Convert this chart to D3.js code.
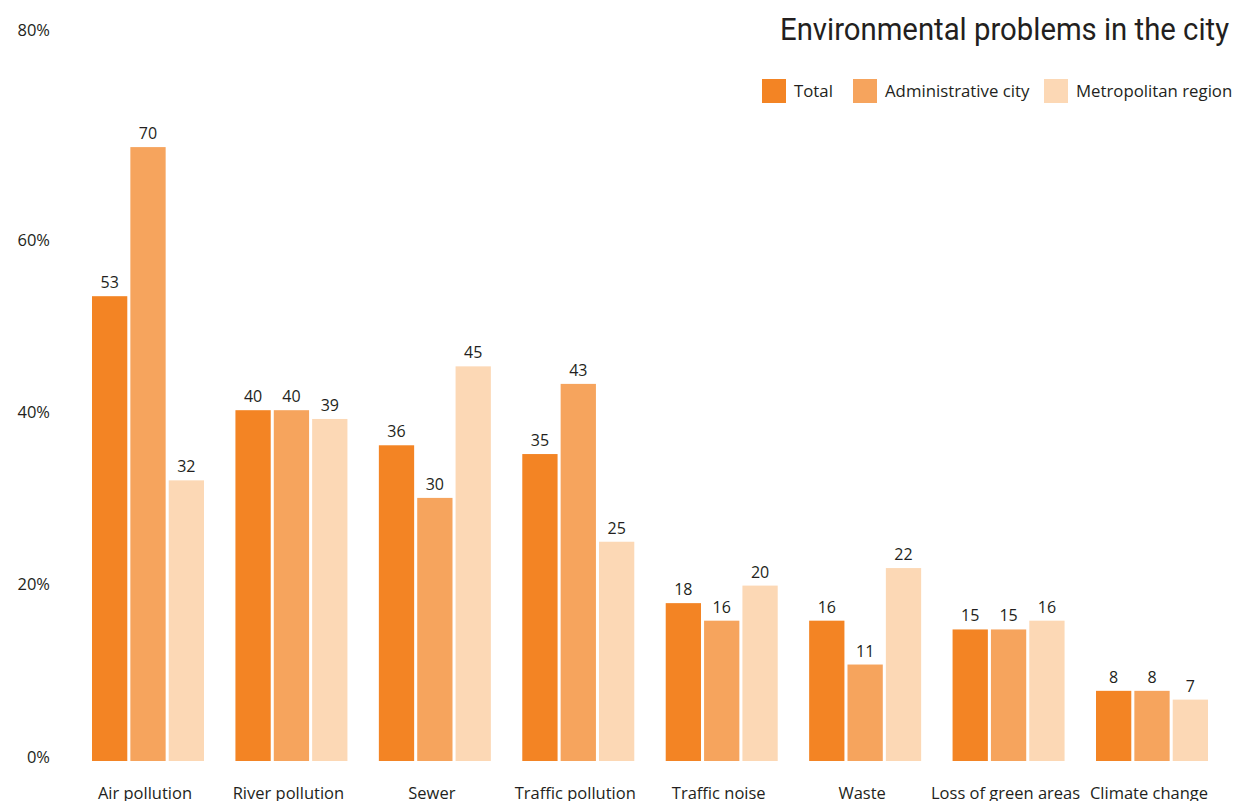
<!DOCTYPE html>
<html>
<head>
<meta charset="utf-8">
<script src="https://cdn.jsdelivr.net/npm/d3@7"></script>
<style>
  html, body { margin: 0; padding: 0; background: #fff; }
  svg { display: block; }
  text { font-family: "Open Sans", "Noto Sans", sans-serif; fill: #231f20; }
</style>
</head>
<body>
<svg id="chart" width="1256" height="801"></svg>
<script>
// Share of respondents naming each environmental problem (%)
const categories = ["Air pollution", "River pollution", "Sewer", "Traffic pollution",
                    "Traffic noise", "Waste", "Loss of green areas", "Climate change"];
const seriesNames = ["Total", "Administrative city", "Metropolitan region"];
const total        = [53, 40, 36, 35, 18, 16, 15, 8];
const adminCity    = [70, 40, 30, 43, 16, 11, 15, 8];
const metroRegion  = [32, 39, 45, 25, 20, 22, 16, 7];
const yTicks = [0, 20, 40, 60, 80];
const colors = ["#f38424", "#f6a45d", "#fcd8b5"];

const seriesValues = [total, adminCity, metroRegion];

const svg = d3.select("#chart");

// Scales
const step = (1152 - 148) / (categories.length - 1);
const x0 = d3.scaleBand()
  .domain(categories)
  .range([148 - step / 2, 1152 + step / 2])
  .padding(0);
const groupWidth = 112;
const x1 = d3.scaleBand()
  .domain(seriesNames)
  .range([0, groupWidth])
  .paddingInner(0.08)
  .paddingOuter(0);
const y = d3.scaleLinear().domain([0, 80]).range([761, 59.4]);
// tick labels sit on their own piecewise scale, the top one pinned to the top edge
const yLabel = d3.scaleLinear().domain([0, 60, 80]).range([757, 240, 30]);
const color = d3.scaleOrdinal().domain(seriesNames).range(colors);

// Y tick labels
svg.append("g").selectAll("text")
  .data(yTicks)
  .join("text")
  .attr("x", 50)
  .attr("y", d => yLabel(d))
  .attr("dy", "0.35em")
  .attr("text-anchor", "end")
  .style("font-size", "16.5px")
  .text(d => d + "%");

// Bars
const groups = svg.append("g").selectAll("g")
  .data(categories)
  .join("g")
  .attr("transform", c => `translate(${x0(c) + x0.bandwidth() / 2 - groupWidth / 2},0)`);

groups.selectAll("rect")
  .data((c, i) => seriesNames.map((s, j) => ({ s, v: seriesValues[j][i] })))
  .join("rect")
  .attr("x", d => x1(d.s))
  .attr("width", x1.bandwidth())
  .attr("y", d => y(d.v))
  .attr("height", d => y(0) - y(d.v))
  .attr("fill", d => color(d.s));

groups.selectAll("text.val")
  .data((c, i) => seriesNames.map((s, j) => ({ s, v: seriesValues[j][i] })))
  .join("text")
  .attr("class", "val")
  .attr("x", d => x1(d.s) + x1.bandwidth() / 2)
  .attr("y", d => y(d.v) - 8)
  .attr("text-anchor", "middle")
  .style("font-size", "16px")
  .text(d => d.v);

// Category labels
svg.append("g").selectAll("text")
  .data(categories)
  .join("text")
  .attr("x", c => x0(c) + x0.bandwidth() / 2 - 3)
  .attr("y", 799)
  .attr("text-anchor", "middle")
  .style("font-size", "16.5px")
  .text(c => c);

// Title
svg.append("text")
  .attr("x", 1229)
  .attr("y", 40)
  .attr("text-anchor", "end")
  .attr("textLength", 449)
  .attr("lengthAdjust", "spacingAndGlyphs")
  .style("font-family", "Roboto, sans-serif")
  .style("font-size", "32px")
  .text("Environmental problems in the city");

// Legend
const legendX = [762, 853, 1044];
const legend = svg.append("g").selectAll("g")
  .data(seriesNames)
  .join("g")
  .attr("transform", (d, i) => `translate(${legendX[i]},79)`);
legend.append("rect")
  .attr("width", 24)
  .attr("height", 24)
  .attr("fill", d => color(d));
legend.append("text")
  .attr("x", 32)
  .attr("y", 12)
  .attr("dy", "0.35em")
  .style("font-size", "16.8px")
  .text(d => d);
</script>
</body>
</html>
